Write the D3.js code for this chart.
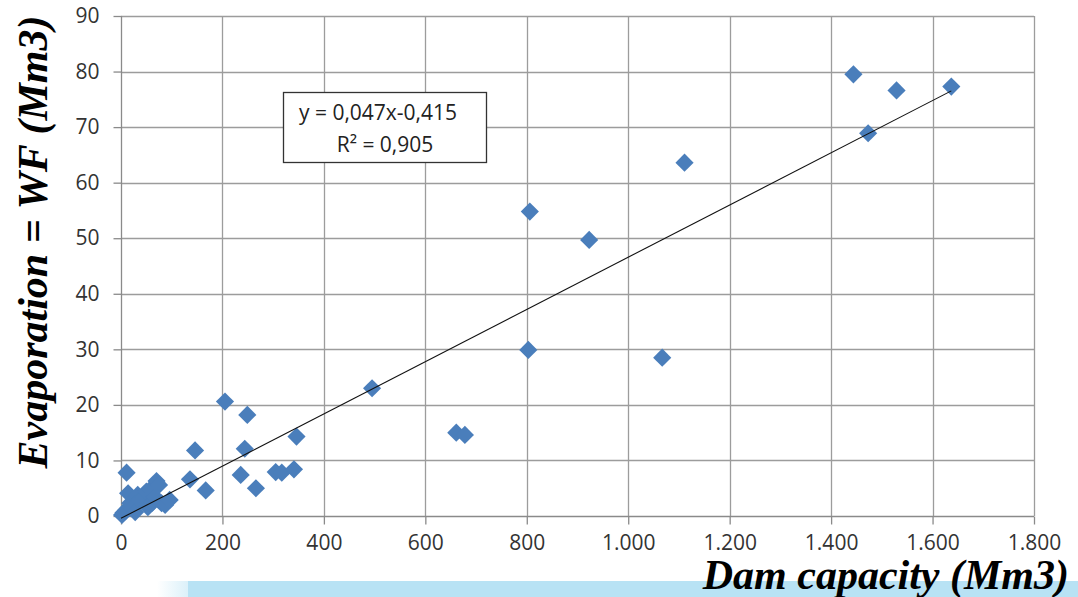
<!DOCTYPE html>
<html>
<head>
<meta charset="utf-8">
<script src="https://cdn.jsdelivr.net/npm/d3@7"></script>
<style>
  html, body { margin: 0; padding: 0; background: #fff; }
  svg { display: block; }
  .tick text { font-family: "Open Sans", sans-serif; font-size: 21px; fill: #333; }
  .title { font-family: "Liberation Serif", "Times New Roman", serif; font-weight: bold; font-style: italic; font-size: 42px; fill: #000; }
  .eq { font-family: "Open Sans", sans-serif; font-size: 21px; fill: #222; }
</style>
</head>
<body>
<div id="chart"></div>
<script>
// dam capacity (Mm3) and evaporation (Mm3)
const capacity = [
  2, 5, 10, 14, 18, 22, 28, 33, 37, 45, 50, 53, 58, 62, 67, 70, 75, 80, 87, 96,
  11, 136, 146, 167, 205, 236, 244, 249, 266, 305, 317, 341, 346,
  495, 661, 678, 803, 806, 923, 1067, 1111, 1444, 1473, 1529, 1637
];
const evaporation = [
  0.2, 0.6, 1.0, 4.1, 2.3, 1.4, 0.7, 3.8, 2.9, 3.3, 4.4, 1.6, 4.8, 2.4, 3.4, 6.3, 5.6, 2.3, 2.0, 2.9,
  7.8, 6.6, 11.8, 4.6, 20.6, 7.4, 12.1, 18.2, 5.0, 7.9, 7.8, 8.4, 14.3,
  23.0, 15.0, 14.6, 29.9, 54.8, 49.7, 28.5, 63.6, 79.5, 68.9, 76.6, 77.3
];
const xTicks = [0, 200, 400, 600, 800, 1000, 1200, 1400, 1600, 1800];
const yTicks = [0, 10, 20, 30, 40, 50, 60, 70, 80, 90];
const slope = 0.047, intercept = -0.415;
const eqLines = ["y = 0,047x-0,415", "R² = 0,905"];

const width = 1078, height = 597;
const svg = d3.select("#chart").append("svg")
  .attr("width", width).attr("height", height);

const x = d3.scaleLinear().domain([0, 1800]).range([121, 1034]);
const y = d3.scaleLinear().domain([0, 90]).range([516, 16]);

const fmt = d3.formatLocale({ decimal: ",", thousands: ".", grouping: [3], currency: ["", ""] }).format(",d");

// grid
svg.append("g").selectAll("line").data(yTicks.slice(1)).join("line")
  .attr("x1", x(0)).attr("x2", x(1800))
  .attr("y1", d => Math.round(y(d)) + 0.5).attr("y2", d => Math.round(y(d)) + 0.5)
  .attr("stroke", "#9c9c9c").attr("stroke-width", 1.3);
svg.append("g").selectAll("line").data(xTicks.slice(1)).join("line")
  .attr("y1", y(0)).attr("y2", y(90))
  .attr("x1", d => Math.round(x(d)) + 0.5).attr("x2", d => Math.round(x(d)) + 0.5)
  .attr("stroke", "#9c9c9c").attr("stroke-width", 1.3);

// axes
const xAxis = svg.append("g")
  .attr("transform", "translate(0," + (Math.round(y(0)) + 0.5) + ")")
  .call(d3.axisBottom(x).tickValues(xTicks).tickFormat(fmt).tickSize(8).tickPadding(11));
const yAxis = svg.append("g")
  .attr("transform", "translate(" + (Math.round(x(0)) + 0.5) + ",0)")
  .call(d3.axisLeft(y).tickValues(yTicks).tickSize(8).tickPadding(14));
[xAxis, yAxis].forEach(g => {
  g.select(".domain").attr("stroke", "#8a8a8a").attr("stroke-width", 1.3);
  g.selectAll(".tick line").attr("stroke", "#8a8a8a").attr("stroke-width", 1.3);
});
yAxis.select(".domain").attr("d", "M0," + y(90) + "V" + y(0));
xAxis.select(".domain").attr("d", "M" + x(0) + ",0H" + x(1800));

// points
const xs = d3.extent(capacity);
const pts = capacity.map((c, i) => ({ c, e: evaporation[i] }));
svg.append("g").selectAll("path").data(pts).join("path")
  .attr("d", d3.symbol(d3.symbolSquare, 165))
  .attr("transform", d => "translate(" + x(d.c) + "," + y(d.e) + ") rotate(45)")
  .attr("fill", "#4a7ebb");

// linear trend line, drawn on top of the points
svg.append("line")
  .attr("x1", x(0)).attr("y1", y(intercept))
  .attr("x2", x(xs[1])).attr("y2", y(slope * xs[1] + intercept))
  .attr("stroke", "#111").attr("stroke-width", 1.1);

// equation box
svg.append("rect").attr("x", 283.5).attr("y", 92.5).attr("width", 203).attr("height", 70)
  .attr("fill", "#fff").attr("stroke", "#333").attr("stroke-width", 1.3);
svg.append("g").selectAll("text").data(eqLines).join("text")
  .attr("class", "eq").attr("text-anchor", "middle")
  .attr("x", (d, i) => i === 0 ? 378 : 385)
  .attr("y", (d, i) => 120 + i * 32)
  .text(d => d);

// light blue band at the bottom
const defs = svg.append("defs");
const grad = defs.append("linearGradient").attr("id", "fade");
grad.append("stop").attr("offset", "0%").attr("stop-color", "#b8e2f4").attr("stop-opacity", 0);
grad.append("stop").attr("offset", "100%").attr("stop-color", "#b8e2f4").attr("stop-opacity", 0.5);
svg.append("rect").attr("x", 157).attr("y", 581).attr("width", 31).attr("height", 16).attr("fill", "url(#fade)");
svg.append("rect").attr("x", 188).attr("y", 581).attr("width", width - 188).attr("height", 16).attr("fill", "#b8e2f4");

// titles
svg.append("text").attr("class", "title")
  .attr("text-anchor", "end").attr("x", 1069).attr("y", 589)
  .text("Dam capacity (Mm3)");
svg.append("text").attr("class", "title")
  .attr("text-anchor", "middle")
  .attr("transform", "translate(47,242) rotate(-90)")
  .text("Evaporation = WF (Mm3)");
</script>
</body>
</html>
